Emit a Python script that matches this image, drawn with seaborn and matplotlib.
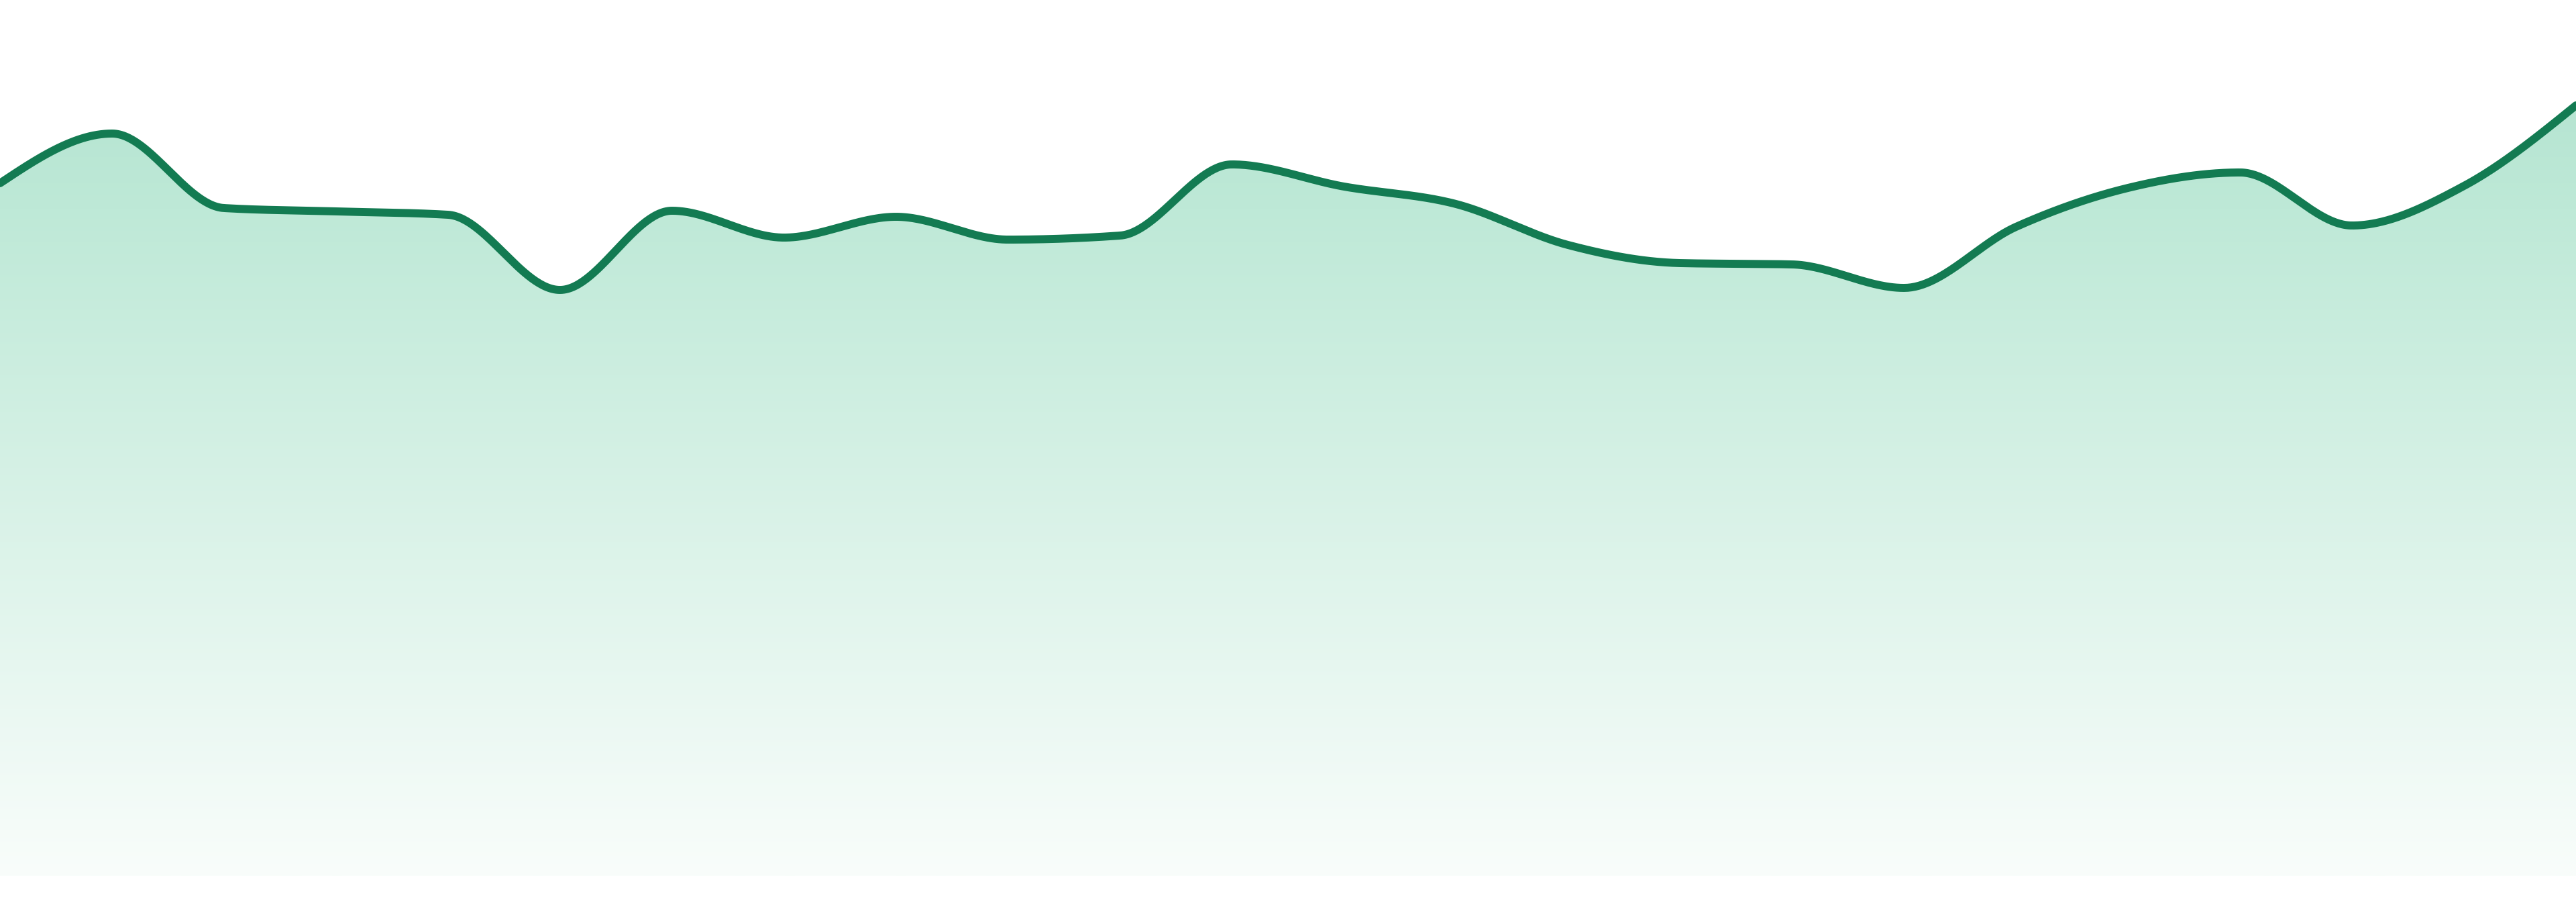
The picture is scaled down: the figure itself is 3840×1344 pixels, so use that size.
import numpy as np
import pandas as pd
import matplotlib
matplotlib.use("Agg")
import matplotlib.pyplot as plt
from matplotlib.patches import PathPatch
import seaborn as sns

# ---- data ----
points = list(range(24))
values = [103.2, 110.6, 99.5, 99.0, 98.5, 87.3, 99.1, 95.1, 98.2, 94.8,
          95.4, 106.0, 102.7, 100.1, 94.0, 91.3, 91.1, 87.6, 96.7, 102.5,
          104.8, 96.9, 102.8, 114.8]
y_domain = [0, 130.5]

# ---- style ----
LINE_COLOR = "#137b52"
LINE_WIDTH = 8.6
GRAD_STOPS_V = [0.0, 99.5, 114.8, 130.5]
GRAD_STOPS_RGB = [(249, 253, 251), (190, 233, 215), (182, 229, 210), (182, 229, 210)]


def monotone_x(x, y, n=60):
    x = np.asarray(x, float)
    y = np.asarray(y, float)
    h = np.diff(x)
    s = np.diff(y) / h
    t = np.zeros_like(y)
    for i in range(1, len(x) - 1):
        h0, h1, s0, s1 = h[i - 1], h[i], s[i - 1], s[i]
        p = (s0 * h1 + s1 * h0) / (h0 + h1)
        t[i] = (np.sign(s0) + np.sign(s1)) * min(abs(s0), abs(s1), 0.5 * abs(p))
    t[0] = (3 * s[0] - t[1]) / 2
    t[-1] = (3 * s[-1] - t[-2]) / 2
    xs, ys = [], []
    for i in range(len(x) - 1):
        u = np.linspace(0, 1, n, endpoint=(i == len(x) - 2))
        h00 = 2 * u**3 - 3 * u**2 + 1
        h10 = u**3 - 2 * u**2 + u
        h01 = -2 * u**3 + 3 * u**2
        h11 = u**3 - u**2
        xs.append(x[i] + u * h[i])
        ys.append(h00 * y[i] + h10 * h[i] * t[i] + h01 * y[i + 1] + h11 * h[i] * t[i + 1])
    return np.concatenate(xs), np.concatenate(ys)


df = pd.DataFrame({"point": points, "value": values})
xd, yd = monotone_x(df["point"], df["value"])
curve = pd.DataFrame({"x": xd, "y": yd})

sns.set_theme(style="white")
fig = plt.figure(figsize=(38.4, 13.44), dpi=100)
fig.patch.set_facecolor("white")
ax = fig.add_axes([0, 39 / 1344, 1, 1305 / 1344])
ax.set_xlim(points[0], points[-1])
ax.set_ylim(*y_domain)
ax.axis("off")

# gradient fill under the curve
vv = np.linspace(y_domain[0], y_domain[1], 600)
rgb = np.stack([np.interp(vv, GRAD_STOPS_V, [c[k] for c in GRAD_STOPS_RGB]) for k in range(3)], axis=-1) / 255.0
img = rgb[:, None, :]
im = ax.imshow(img, extent=[points[0], points[-1], y_domain[0], y_domain[1]],
               origin="lower", aspect="auto", interpolation="bilinear", zorder=1)
poly = ax.fill_between(curve["x"], curve["y"], y_domain[0], color="none", linewidth=0)
patch = PathPatch(poly.get_paths()[0], transform=ax.transData, facecolor="none", edgecolor="none")
ax.add_patch(patch)
im.set_clip_path(patch)

sns.lineplot(data=curve, x="x", y="y", ax=ax, color=LINE_COLOR, linewidth=LINE_WIDTH,
             sort=False, estimator=None, legend=False, zorder=3,
             solid_joinstyle="round", solid_capstyle="round")
ax.set_xlim(points[0], points[-1])
ax.set_ylim(*y_domain)
ax.axis("off")

fig.savefig("out.png", dpi=100, facecolor="white")
